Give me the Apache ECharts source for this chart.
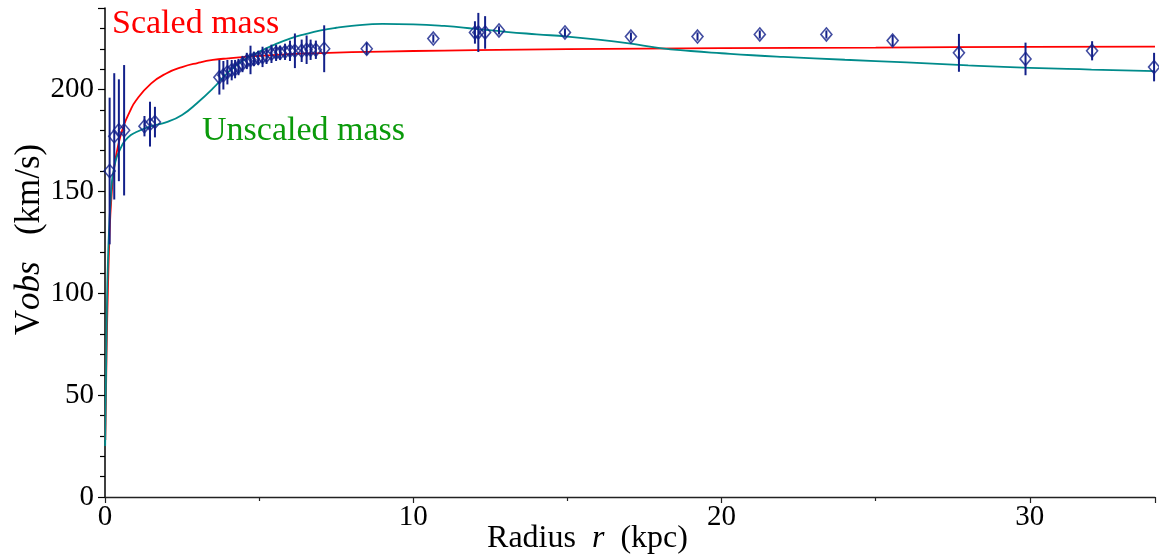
<!DOCTYPE html>
<html>
<head>
<meta charset="utf-8">
<script src="https://cdn.jsdelivr.net/npm/echarts@6/dist/echarts.min.js"></script>
<style>
  html, body { margin: 0; padding: 0; background: #ffffff; }
  #chart { width: 1159px; height: 559px; }
</style>
</head>
<body>
<div id="chart"></div>
<script>
// Observed rotation-curve points: radius (kpc), velocity (km/s), error (km/s)
const rObs = [0.15, 0.30, 0.45, 0.62, 1.28, 1.46, 1.62,
  3.71, 3.84, 3.97, 4.11, 4.22, 4.33, 4.46, 4.60, 4.72, 4.83, 4.97, 5.11, 5.24, 5.40, 5.55, 5.68, 5.84,
  6.00, 6.16, 6.38, 6.54, 6.67, 6.84, 7.11, 8.49, 10.65, 12.00, 12.11, 12.33, 12.78, 14.92, 17.06,
  19.22, 21.24, 23.40, 25.55, 27.70, 29.86, 32.02, 34.03];
const vObs = [160, 177, 180, 180, 182, 183, 184,
  206, 207, 208.5, 209.5, 210, 211, 212.5, 214, 214.5, 215, 215.5, 216, 216.5, 217.5, 218, 218, 218.5,
  219, 219, 219, 219.5, 219.5, 219.5, 220, 220, 225, 228, 228, 228, 229, 228, 226,
  226, 227, 227, 224, 218, 215, 219, 211];
const vErr = [36, 31, 25, 32, 5, 11, 7.5,
  8.5, 7, 6, 5, 4.5, 4, 4, 4, 7, 3.5, 3.5, 5, 4, 4.5, 4, 3.5, 4,
  5, 8.5, 5.5, 7, 5, 4.5, 11.5, 3, 2, 5.5, 9.6, 8, 2, 2, 2,
  2, 2, 2, 2.7, 9.3, 8, 4.7, 7];

// Model curve "Scaled mass" (red)
const rScaled = [0.01, 0.05, 0.1, 0.15, 0.2, 0.3, 0.45, 0.6, 0.8, 1.0, 1.5, 2.0, 2.5, 3.0, 3.5, 4.0, 5.0, 6.0, 7.0, 8.0, 10, 12, 15, 20, 25, 30, 34.06];
const vScaled = [28, 70, 105, 130, 145, 162, 174, 182, 189, 194.5, 203, 208, 211, 213, 214.5, 215.3, 216.5, 217.4, 217.9, 218.3, 218.9, 219.3, 219.8, 220.3, 220.6, 220.9, 221];

// Model curve "Unscaled mass" (teal)
const rUnscaled = [0.005, 0.05, 0.1, 0.2, 0.3, 0.5, 0.75, 1.0, 1.5, 2.0, 2.5, 3.0, 3.5, 4.0, 4.5, 5.0, 5.5, 6.0, 6.5, 7.0, 7.5, 8.0, 9.0, 10, 11, 12, 13, 14, 15, 16, 17, 18, 19, 20, 21, 22, 24, 26, 28, 30, 32, 34.06];
const vUnscaled = [25, 80, 118, 150, 162, 171, 176.5, 179, 182, 184, 187.5, 193.5, 200.5, 208.5, 214.5, 218.5, 222, 225, 227.2, 229, 230.3, 231.2, 232.2, 232, 231.2, 229.8, 228.3, 227.1, 226, 224.5, 222.6, 220.3, 218.9, 217.8, 216.8, 216, 214.6, 213.3, 211.8, 210.6, 209.8, 209];

const xTickLabels = ['0', '10', '20', '30'];
const yTickLabels = ['0', '50', '100', '150', '200'];

const FONT = "'Liberation Serif', 'DejaVu Serif', serif";
const NAVY = '#13208a';

const chart = echarts.init(document.getElementById('chart'), null, { renderer: 'canvas' });

const option = {
  backgroundColor: '#ffffff',
  animation: false,
  grid: { left: 105, right: 4, top: 8, bottom: 62, containLabel: false, outerBoundsMode: 'none' },
  xAxis: {
    type: 'value', min: 0, max: 34.06, interval: 10,
    axisLine: { show: true, onZero: false, lineStyle: { color: '#222', width: 1.3 } },
    axisTick: { show: true, inside: false, length: 6, lineStyle: { color: '#222', width: 1.2 } },
    minorTick: { show: true, splitNumber: 2, length: 4, lineStyle: { color: '#222', width: 1.2 } },
    splitLine: { show: false },
    axisLabel: {
      fontFamily: FONT, fontSize: 29, color: '#000', margin: 6,
      formatter: v => xTickLabels.includes(String(v)) ? String(v) : ''
    },
    name: 'Radius  {i|r}  (kpc)',
    nameLocation: 'middle', nameGap: 26, nameMoveOverlap: false,
    nameTextStyle: {
      fontFamily: FONT, fontSize: 32, color: '#000', padding: [0, 85, 0, 0],
      rich: { i: { fontFamily: FONT, fontSize: 32, fontStyle: 'italic', color: '#000' } }
    }
  },
  yAxis: {
    type: 'value', min: 0, max: 240, interval: 50,
    axisLine: { show: true, onZero: false, lineStyle: { color: '#000', width: 1.5 } },
    axisTick: { show: true, inside: false, length: 7, lineStyle: { color: '#000', width: 1.2 } },
    minorTick: { show: true, splitNumber: 5, length: 5, lineStyle: { color: '#000', width: 1.2 } },
    splitLine: { show: false },
    axisLabel: {
      fontFamily: FONT, fontSize: 29, color: '#000', margin: 11,
      formatter: v => yTickLabels.includes(String(v)) ? String(v) : ''
    },
    name: 'V{i|obs}   (km/s)',
    nameLocation: 'middle', nameRotate: 90, nameGap: 58, nameMoveOverlap: false,
    nameTextStyle: {
      fontFamily: FONT, fontSize: 35, color: '#000', padding: [0, 0, 0, 26],
      rich: { i: { fontFamily: FONT, fontSize: 35, fontStyle: 'italic', color: '#000' } }
    }
  },
  graphic: [
    { type: 'text', left: 112, top: 7, z: 100,
      style: { text: 'Scaled mass', fill: '#ff0000', font: "34px 'Liberation Serif', serif" } },
    { type: 'text', left: 202, top: 114, z: 100,
      style: { text: 'Unscaled mass', fill: '#0a9a0a', font: "34px 'Liberation Serif', serif" } }
  ],
  series: [
    {
      name: 'Scaled mass', type: 'line', smooth: 0.5, showSymbol: false,
      lineStyle: { color: '#ff0000', width: 1.8 }, z: 2,
      data: rScaled.map((r, i) => [r, vScaled[i]])
    },
    {
      name: 'Unscaled mass', type: 'line', smooth: 0.5, showSymbol: false,
      lineStyle: { color: '#008b8b', width: 1.8 }, z: 2,
      data: rUnscaled.map((r, i) => [r, vUnscaled[i]])
    },
    {
      name: 'errors', type: 'custom', z: 3,
      encode: { x: 0, y: [1, 2] },
      data: rObs.map((r, i) => [r, vObs[i] - vErr[i], vObs[i] + vErr[i]]),
      renderItem: (params, api) => {
        const p1 = api.coord([api.value(0), api.value(1)]);
        const p2 = api.coord([api.value(0), api.value(2)]);
        return { type: 'line', shape: { x1: p1[0], y1: p1[1], x2: p2[0], y2: p2[1] },
                 style: { stroke: NAVY, lineWidth: 2 } };
      }
    },
    {
      name: 'observed', type: 'scatter', symbol: 'diamond', symbolSize: [11, 13], z: 4,
      itemStyle: { color: 'rgba(0,0,0,0)', borderColor: NAVY, borderWidth: 1.6 },
      data: rObs.map((r, i) => [r, vObs[i]])
    }
  ]
};
chart.setOption(option);
</script>
</body>
</html>
